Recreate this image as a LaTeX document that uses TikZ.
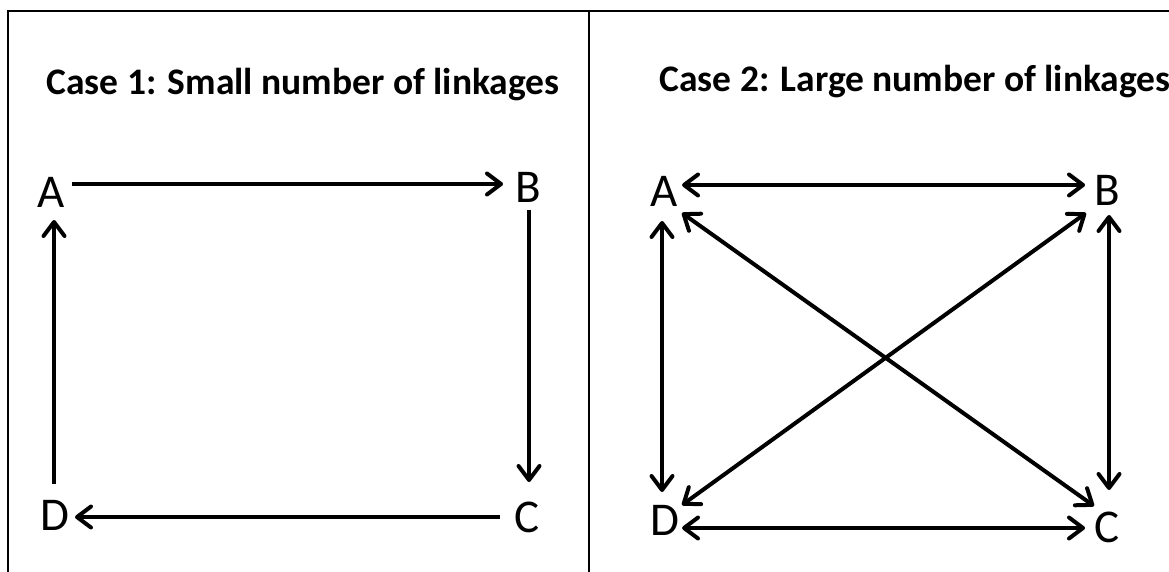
\documentclass[tikz,border=0pt]{standalone}
\usepackage{fontspec}
\setmainfont{Carlito}
\usetikzlibrary{arrows.meta,calc}

\begin{document}
\begin{tikzpicture}[x=1pt,y=-1pt,
    letter/.style={inner sep=0pt, font=\fontsize{47}{47}\selectfont},
    title/.style={anchor=base, inner sep=0pt, font=\fontsize{37.5}{37.5}\selectfont\bfseries},
    uni/.style={-{Straight Barb[length=14pt,width=21pt,round]}, line width=4pt},
    bi/.style={{Straight Barb[length=14pt,width=21pt,round]}-{Straight Barb[length=14pt,width=21pt,round]}, line width=4pt},
    frame/.style={line width=2pt}
]
    \useasboundingbox (0,0) rectangle (1169,572);

    % Frame
    \draw[frame] (8,572) -- (8,11) -- (1169,11);
    \draw[frame] (589,11) -- (589,572);

    % Titles
    \node[title] (case1) at (303,95) {Case 1: Small number of linkages};
    \node[title] (case2) at (915,92) {Case 2: Large number of linkages};

    % Case 1 letters
    \node[letter] (A1) at (51,192) {A};
    \node[letter] (B1) at (528,187) {B};
    \node[letter] (C1) at (527,517) {C};
    \node[letter] (D1) at (55,515) {D};

    % Case 2 letters
    \node[letter] (A2) at (664,191) {A};
    \node[letter] (B2) at (1107,190) {B};
    \node[letter] (C2) at (1107,527) {C};
    \node[letter] (D2) at (665,520) {D};

    % Case 1 links
    \draw[uni] ($(A1)+(21,-8)$) -- ($(B1)+(-25,-3)$);
    \draw[uni] ($(B1)+(1,23)$) -- ($(C1)+(2,-35)$);
    \draw[uni] ($(C1)+(-27,0)$) -- ($(D1)+(20,2)$);
    \draw[uni] ($(D1)+(-1,-31)$) -- ($(A1)+(3,28)$);

    % Case 2 links
    \draw[bi] ($(A2)+(18,-6)$) -- ($(B2)+(-22,-5)$);
    \draw[bi] ($(A2)+(-2,30)$) -- ($(D2)+(-3,-28)$);
    \draw[bi] ($(D2)+(17,8)$) -- ($(C2)+(-22,1)$);
    \draw[bi] ($(B2)+(2,25)$) -- ($(C2)+(2,-37)$);
    \draw[bi] ($(A2)+(18,22)$) -- ($(C2)+(-13,-21)$);
    \draw[bi] ($(B2)+(-21,23)$) -- ($(D2)+(17,-15)$);
\end{tikzpicture}
\end{document}
